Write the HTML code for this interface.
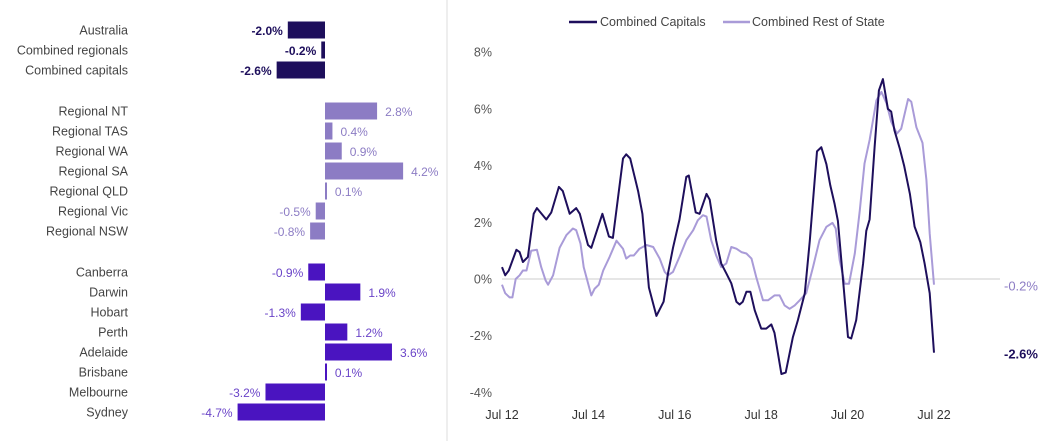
<!DOCTYPE html>
<html><head><meta charset="utf-8"><style>
body{margin:0;background:#fff;width:1053px;height:441px;overflow:hidden;font-family:"Liberation Sans",sans-serif}
svg{display:block}
</style></head><body>
<svg id="c" width="1053" height="441">
<line x1="447" y1="0" x2="447" y2="441" stroke="#ddd" stroke-width="1"/>
<g id="bars"></g>
<g id="lines"></g>
</svg>
<script>
const barLabels=["Australia","Combined regionals","Combined capitals","Regional NT","Regional TAS","Regional WA","Regional SA","Regional QLD","Regional Vic","Regional NSW","Canberra","Darwin","Hobart","Perth","Adelaide","Brisbane","Melbourne","Sydney"];
const barValues=[-2.0,-0.2,-2.6,2.8,0.4,0.9,4.2,0.1,-0.5,-0.8,-0.9,1.9,-1.3,1.2,3.6,0.1,-3.2,-4.7];
const barGroups=[0,0,0,1,1,1,1,1,1,1,2,2,2,2,2,2,2,2];
const capMonths=[0,0.9,1.9,4,4.9,5.8,7.2,8.8,9.7,12.3,13.7,15.8,16.9,18.8,20.6,21.6,23.9,24.8,27.1,27.9,29.7,30.8,33.6,34.5,35.6,37.8,39,40.8,42.9,44.9,46.1,47.5,49.3,51.2,51.9,53.8,54.9,56.8,57.7,59.5,60.9,62.3,63.7,65.1,66,66.9,67.9,69,70.2,72,73.4,74.8,75.7,77.6,78.8,80.8,82.2,84.1,85.5,87.5,88.7,90.1,91.2,92.4,93.3,96.1,97,98.4,100.3,101.2,102.1,103.5,104.7,105.8,107.2,108.1,109,110.5,111.7,113.3,114.6,116.2,117.4,118.8,120];
const capValues=[0.42,0.13,0.3,1.03,0.95,0.6,0.78,2.3,2.5,2.1,2.35,3.25,3.1,2.3,2.5,2.3,1.2,1.1,2.0,2.3,1.5,1.45,4.25,4.4,4.25,3.1,2.3,-0.3,-1.3,-0.8,0.2,1.1,2.1,3.6,3.65,2.35,2.3,3.0,2.8,1.35,0.55,0.2,-0.15,-0.8,-0.9,-0.8,-0.45,-0.45,-1.1,-1.75,-1.75,-1.6,-1.9,-3.35,-3.3,-2.05,-1.45,-0.5,1.35,4.5,4.65,4.05,3.3,2.65,2.05,-2.05,-2.1,-1.45,0.55,1.7,2.1,4.65,6.65,7.05,6.0,5.9,5.25,4.6,4.0,3.0,1.85,1.3,0.55,-0.5,-2.6];
const restMonths=[0,0.9,2.1,2.9,3.8,4.9,5.8,6.8,8.1,9.7,10.9,12.1,12.8,14.2,16,17.9,19.7,20.6,21.8,22.7,24.8,25.7,26.9,28.1,29.9,31.8,33.6,34.5,35.6,36.6,38.2,40.1,42,43.8,45.2,46.1,47.5,49.3,51.2,53.1,54.4,55.8,56.8,58.1,59.5,60.9,62.3,63.7,65.1,66.5,67.9,69.3,70.6,72.5,73.9,75.7,77.1,78.5,79.9,81.3,82.7,84.5,86.4,88.2,90.1,91.8,92.7,93.8,95.2,96.4,98,99.4,100.7,102.1,104,105.4,106.8,108.1,109.7,110.9,112.8,113.7,115.1,116.8,117.9,118.8,120];
const restValues=[-0.2,-0.5,-0.65,-0.65,0,0.13,0.3,0.3,1.0,1.03,0.42,-0.05,-0.2,0.13,1.1,1.55,1.78,1.72,1.25,0.42,-0.58,-0.35,-0.2,0.3,0.78,1.35,1.07,0.72,0.83,0.83,1.07,1.2,1.13,0.72,0.25,0.13,0.25,0.78,1.37,1.72,2.07,2.25,2.2,1.37,0.83,0.42,0.55,1.13,1.07,0.95,0.9,0.72,0.07,-0.75,-0.75,-0.58,-0.58,-0.93,-1.05,-0.93,-0.75,-0.5,0.42,1.37,1.84,1.98,1.78,0.66,-0.17,-0.17,0.9,2.42,4.07,4.9,6.3,6.6,6.2,5.55,5.13,5.3,6.35,6.25,5.35,4.8,3.5,1.6,-0.2];
const yTicks=[8,6,4,2,0,-2,-4];
const xTickLabels=["Jul 12","Jul 14","Jul 16","Jul 18","Jul 20","Jul 22"];
const xTickMonths=[0,24,48,72,96,120];

const NS="http://www.w3.org/2000/svg";
function mk(tag,attrs,parent,text){const e=document.createElementNS(NS,tag);for(const k in attrs)e.setAttribute(k,attrs[k]);if(text!==undefined)e.textContent=text;parent.appendChild(e);return e;}

const bg=document.getElementById('bars');
const zeroX=325, pxPer=18.6;
const bx=v=>zeroX+v*pxPer;
const rowY=i=>{const g=barGroups[i];return 30+i*20+g*21;};
const barFill=["#1e0f5c","#8c7cc4","#4a14c0"];
const valFill=["#1e0f5c","#8c7cc4","#6a44c8"];
barLabels.forEach((lab,i)=>{
  const y=rowY(i),v=barValues[i],g=barGroups[i];
  const t=mk('text',{x:128,y:y+4.5,'text-anchor':'end','font-size':12.5,fill:'#444'},bg,lab);
  
  
  const x0=Math.min(bx(0),bx(v)),w=Math.max(Math.abs(bx(v)-bx(0)),2);
  const r=mk('rect',{x:x0,y:y-8.5,width:w,height:17,fill:barFill[g]},bg);
  
  
  const s=(v<0?'-':'')+Math.abs(v).toFixed(1)+'%';
  const vt=mk('text',{x:v<0?bx(v)-5:bx(v)+8,y:y+5,'text-anchor':v<0?'end':'start','font-size':12,fill:valFill[g],'font-weight':g===0?'bold':'normal'},bg,s);
  
  
});

const lg=document.getElementById('lines');
const xm=m=>502+m*3.6;
const yv=v=>279-v*28.35;
mk('line',{x1:502,x2:1000,y1:yv(0),y2:yv(0),stroke:'#ccc','stroke-width':1},lg);
yTicks.forEach(t=>{
  const e=mk('text',{x:492,y:yv(t)+4.5,'text-anchor':'end','font-size':12.5,fill:'#555'},lg,t+'%');
  
  
});
xTickLabels.forEach((l,i)=>{
  const e=mk('text',{x:xm(xTickMonths[i]),y:419,'text-anchor':'middle','font-size':12.5,fill:'#333'},lg,l);
  
  
});
function path(ms,vs){return ms.map((m,i)=>(i?'L':'M')+xm(m).toFixed(1)+','+yv(vs[i]).toFixed(1)).join('');}
const pr=mk('path',{d:path(restMonths,restValues),fill:'none',stroke:'#a99bd8','stroke-width':2,'stroke-linejoin':'round'},lg);


const pc=mk('path',{d:path(capMonths,capValues),fill:'none',stroke:'#1e0f5c','stroke-width':2,'stroke-linejoin':'round'},lg);


const e1=mk('text',{x:1004,y:yv(restValues[restValues.length-1])+6,'font-size':13,fill:'#8c7cc4'},lg,'-0.2%');


const e2=mk('text',{x:1004,y:yv(capValues[capValues.length-1])+6,'font-size':13,fill:'#1e0f5c','font-weight':'bold'},lg,'-2.6%');


const l1=mk('line',{x1:569,x2:597,y1:22,y2:22,stroke:'#1e0f5c','stroke-width':2.5},lg);

const t1=mk('text',{x:600,y:26,'font-size':12.5,fill:'#444'},lg,'Combined Capitals');


const l2=mk('line',{x1:723,x2:750,y1:22,y2:22,stroke:'#a99bd8','stroke-width':2.5},lg);

const t2=mk('text',{x:752,y:26,'font-size':12.5,fill:'#444'},lg,'Combined Rest of State');


</script>
</body></html>
